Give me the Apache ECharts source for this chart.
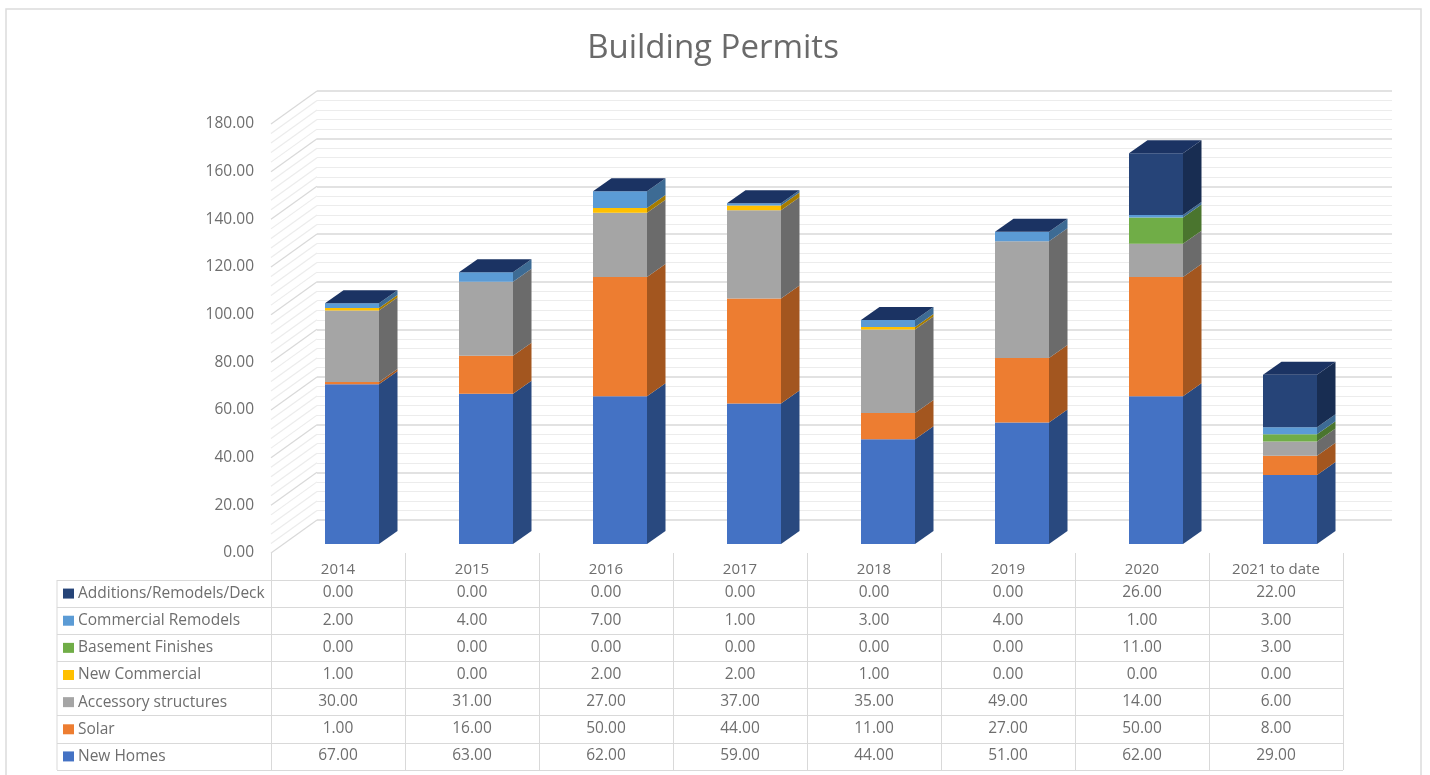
<!DOCTYPE html>
<html><head><meta charset="utf-8">
<style>html,body{margin:0;padding:0;background:#fff}#c{width:1430px;height:775px}</style>
<script src="https://cdn.jsdelivr.net/npm/echarts@6/dist/echarts.min.js"></script>
</head><body><div id="c"></div>
<script>
const categories = ['2014','2015','2016','2017','2018','2019','2020','2021 to date'];
const newHomes = [67,63,62,59,44,51,62,29];
const solar = [1,16,50,44,11,27,50,8];
const accessory = [30,31,27,37,35,49,14,6];
const newCommercial = [1,0,2,2,1,0,0,0];
const basement = [0,0,0,0,0,0,11,3];
const commercialRemodels = [2,4,7,1,3,4,1,3];
const additions = [0,0,0,0,0,0,26,22];
const stackNames = ['New Homes','Solar','Accessory structures','New Commercial','Basement Finishes','Commercial Remodels','Additions/Remodels/Deck'];
const stackValues = [newHomes,solar,accessory,newCommercial,basement,commercialRemodels,additions];
const frontColors = ['#4472C4','#ED7D31','#A5A5A5','#FFC000','#70AD47','#5B9BD5','#264478'];
const sideColors = ['#29497F','#A3561F','#6B6B6B','#A67C00','#4A752E','#3D6B94','#182D52'];
const topColor = '#1B3363';
const yTicks = [];
for (let t = 0; t <= 180; t += 4) yTicks.push(t);

const FONT = '"Open Sans"';
const TXT = '#6e6e6e';
const WALL = [46,-33];
const BAR_W = 54, SIDE = [18.5,-13];
const rows = stackNames.map((n,i)=>i).reverse();
const rich = {n:{color:TXT,fontFamily:FONT,fontSize:15.5,padding:[0,0,0,4]}};
stackNames.forEach((n,i)=>{rich['s'+i]={backgroundColor:frontColors[i],width:11,height:10};});

let running = categories.map(()=>0);
const barSeries = stackNames.map((name,si)=>{
  const data = categories.map((c,ci)=>{
    const b = running[ci], t = b + stackValues[si][ci];
    running[ci] = t;
    return [ci,b,t];
  });
  return {
    type:'custom', name, xAxisIndex:2, yAxisIndex:2, z:5, clip:false, silent:true,
    data, encode:{x:0,y:[1,2]},
    renderItem(p,api){
      const c = api.value(0);
      const lo = api.coord([c,api.value(1)]), hi = api.coord([c,api.value(2)]);
      const x0 = lo[0]-BAR_W/2, x1 = lo[0]+BAR_W/2;
      const kids = [];
      if (hi[1] < lo[1]) {
        kids.push({type:'polygon',shape:{points:[[x1,lo[1]],[x1+SIDE[0],lo[1]+SIDE[1]],[x1+SIDE[0],hi[1]+SIDE[1]],[x1,hi[1]]]},style:{fill:sideColors[si]}});
        kids.push({type:'rect',shape:{x:x0,y:hi[1],width:BAR_W,height:lo[1]-hi[1]},style:{fill:frontColors[si]}});
      }
      if (si === stackNames.length-1) {
        kids.push({type:'polygon',shape:{points:[[x0,hi[1]],[x1,hi[1]],[x1+SIDE[0],hi[1]+SIDE[1]],[x0+SIDE[0],hi[1]+SIDE[1]]]},style:{fill:topColor}});
      }
      return {type:'group',children:kids};
    }
  };
});

const tableCells = [];
rows.forEach(si=>categories.forEach((c,ci)=>tableCells.push([ci,stackNames[si],stackValues[si][ci]])));

const option = {
  animation:false,
  backgroundColor:'#fff',
  title:{text:'Building Permits',left:708,top:27,textAlign:'center',textStyle:{color:'#6a6a6a',fontFamily:FONT,fontSize:33,fontWeight:'normal'}},
  grid:[
    {left:271,top:124,width:1072,height:429},
    {left:317,top:91,width:1075,height:429},
    {left:285,top:115,width:1072,height:429},
    {left:271,top:580,width:1072,height:190}
  ],
  xAxis:[
    {gridIndex:0,type:'category',data:categories,axisLine:{show:false},
     axisTick:{show:true,length:27,lineStyle:{color:'#d9d9d9'}},
     axisLabel:{color:TXT,fontFamily:FONT,fontSize:15,margin:9}},
    {gridIndex:1,type:'value',min:0,max:1,show:false},
    {gridIndex:2,type:'category',data:categories,show:false},
    {gridIndex:3,type:'category',data:categories,axisLine:{show:true,lineStyle:{color:'#d9d9d9'}},axisTick:{show:false},axisLabel:{show:false},
     position:'top',splitLine:{show:true,lineStyle:{color:'#d9d9d9'}}}
  ],
  yAxis:[
    {gridIndex:0,type:'value',min:0,max:180,interval:20,axisLine:{show:false},axisTick:{show:false},splitLine:{show:false},
     axisLabel:{color:TXT,fontFamily:FONT,fontSize:15.5,margin:17,padding:[1,0,0,0],formatter:v=>v.toFixed(2)}},
    {gridIndex:1,type:'value',min:0,max:180,interval:20,axisLine:{show:false},axisTick:{show:false},axisLabel:{show:false},
     splitLine:{show:true,lineStyle:{color:'#d9d9d9',width:1.6}},
     minorTick:{show:false,splitNumber:5},minorSplitLine:{show:true,lineStyle:{color:'#ececec',width:1.2}}},
    {gridIndex:2,type:'value',min:0,max:180,show:false},
    {gridIndex:3,type:'category',inverse:true,data:rows.map(i=>stackNames[i]),
     axisLine:{show:true,lineStyle:{color:'#d9d9d9'}},
     axisTick:{show:true,length:214,lineStyle:{color:'#d9d9d9'}},
     splitLine:{show:true,lineStyle:{color:'#d9d9d9'}},
     axisLabel:{align:'left',margin:208,
       formatter:v=>`{s${stackNames.indexOf(v)}|}{n|${v}}`,rich}}
  ],
  graphic:[
    {type:'rect',silent:true,z:-1,shape:{x:6,y:9,width:1415,height:790},style:{fill:'#fff',stroke:'#dcdcdc',lineWidth:1.5}},
    {type:'line',silent:true,shape:{x1:57,y1:580,x2:57,y2:770},style:{stroke:'#d9d9d9',lineWidth:1}}
  ],
  series:[
    {type:'custom',xAxisIndex:0,yAxisIndex:0,z:1,silent:true,clip:false,
     data:yTicks.map(t=>[0,t]),encode:{y:1},
     renderItem(p,api){
       const t = api.value(1), pt = api.coord([0,t]);
       const x = p.coordSys.x;
       return {type:'line',shape:{x1:x,y1:pt[1],x2:x+WALL[0],y2:pt[1]+WALL[1]},
         style:{stroke:t%20===0?'#d9d9d9':'#ececec',lineWidth:1.2}};
     }},
    ...barSeries,
    {type:'custom',name:'table',xAxisIndex:3,yAxisIndex:3,z:6,silent:true,
     data:tableCells,encode:{x:0,y:1},
     renderItem(p,api){
       const d = tableCells[p.dataIndex];
       const pt = api.coord([d[0],d[1]]);
       return {type:'text',style:{x:pt[0],y:pt[1]-0.5,text:d[2].toFixed(2),align:'center',verticalAlign:'middle',
         fill:TXT,font:'15.5px "Open Sans"'}};
     }}
  ]
};
const chart = echarts.init(document.getElementById('c'),null,{renderer:'canvas'});
chart.setOption(option);
</script></body></html>
